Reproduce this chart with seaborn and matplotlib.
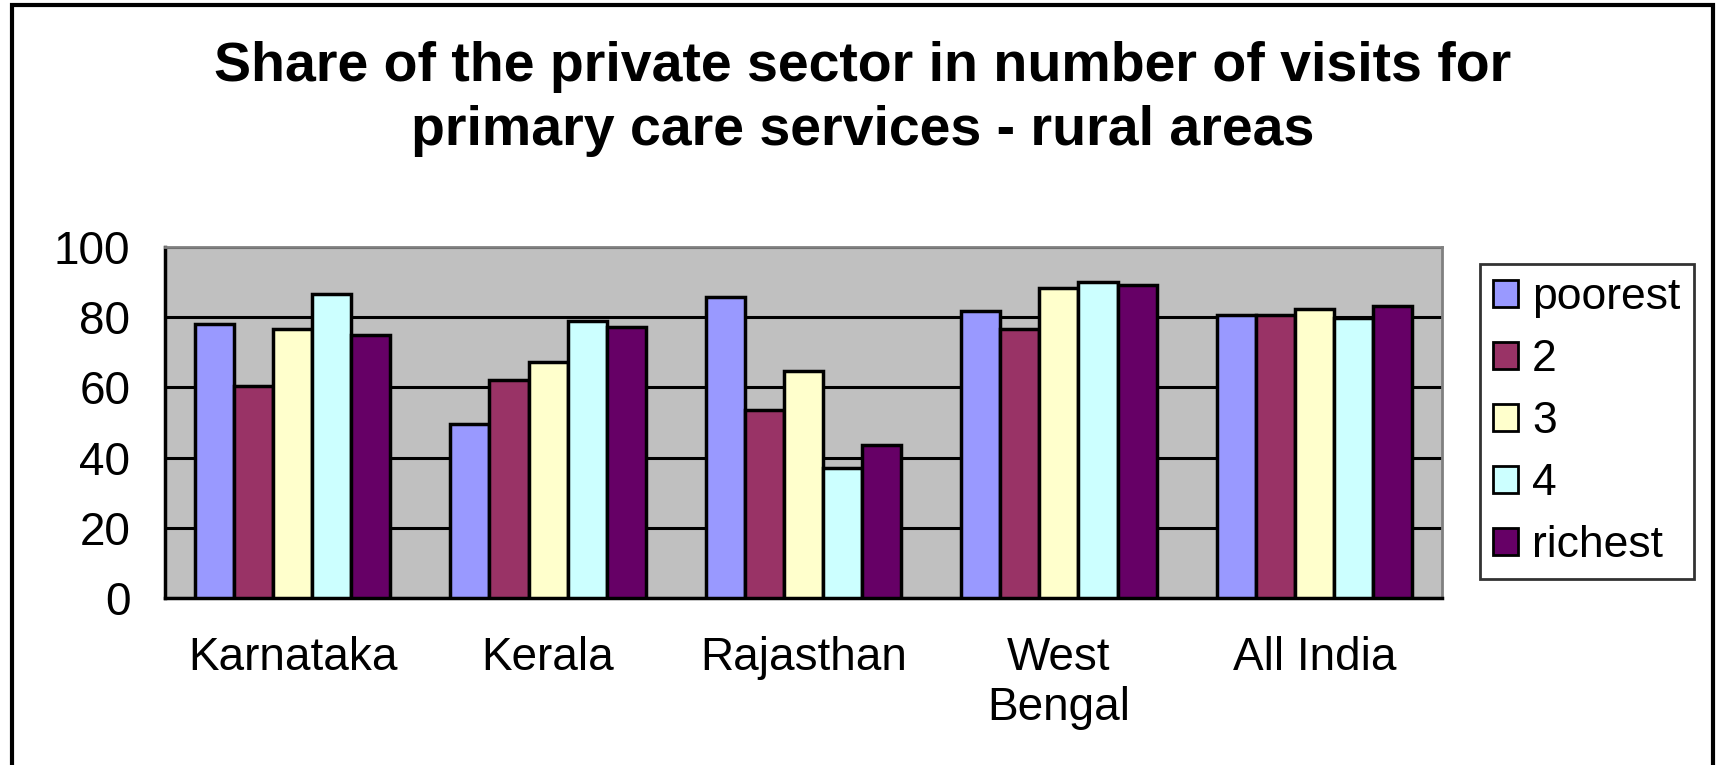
import matplotlib
matplotlib.use("Agg")
import matplotlib.pyplot as plt
import seaborn as sns
import pandas as pd
from matplotlib.patches import Rectangle

regions = ["Karnataka", "Kerala", "Rajasthan", "West\nBengal", "All India"]
quintiles = ["poorest", "2", "3", "4", "richest"]
poorest = [78.2, 49.7, 85.8, 81.7, 80.7]
q2 = [60.5, 62.1, 53.7, 76.6, 80.7]
q3 = [76.5, 67.2, 64.7, 88.3, 82.4]
q4 = [86.7, 78.9, 36.9, 89.9, 79.9]
richest = [74.8, 77.3, 43.7, 89.2, 83.1]
colors = ["#9999FF", "#993366", "#FFFFCC", "#CCFFFF", "#660066"]
title = "Share of the private sector in number of visits for\nprimary care services - rural areas"

series = [poorest, q2, q3, q4, richest]
df = pd.DataFrame(
    [(r, q, v) for q, vals in zip(quintiles, series) for r, v in zip(regions, vals)],
    columns=["region", "quintile", "share"],
)

sns.set_style("white")
plt.rcParams["font.family"] = ["Liberation Sans", "DejaVu Sans"]
plt.rcParams["text.color"] = "black"
plt.rcParams["xtick.labelcolor"] = "black"
plt.rcParams["ytick.labelcolor"] = "black"

W, H = 1716, 765
fig = plt.figure(figsize=(W / 100, H / 100), dpi=100)
ax = fig.add_axes([165 / W, 1 - 598 / H, (1442 - 165) / W, (598 - 247) / H])
ax.set_facecolor("#C0C0C0")

sns.barplot(
    data=df, x="region", y="share", hue="quintile", order=regions,
    hue_order=quintiles, palette=colors, saturation=1, width=0.765,
    edgecolor="black", linewidth=2.5, ax=ax, zorder=3,
)

ax.set_xlim(-0.5, len(regions) - 0.5)
ax.set_ylim(0, 100)
ax.set_yticks(range(0, 101, 20))
ax.set_xlabel("")
ax.set_ylabel("")
ax.yaxis.grid(True, color="black", linewidth=2.2, zorder=0)
ax.set_axisbelow(True)

# category labels without ticks; boundary ticks between the groups
ax.tick_params(axis="x", which="major", length=0, pad=27, labelsize=33)
ax.set_xticks([i - 0.5 for i in range(len(regions) + 1)], minor=True)
ax.tick_params(axis="x", which="minor", length=12, width=2, color="black", direction="out")
ax.tick_params(axis="y", length=12, width=2, color="black", direction="out", pad=13, labelsize=33)
for lbl in ax.get_xticklabels():
    lbl.set_linespacing(1.18)

for side in ["left", "bottom"]:
    ax.spines[side].set_color("black")
    ax.spines[side].set_linewidth(2.5)
for side in ["top", "right"]:
    ax.spines[side].set_color("#808080")
    ax.spines[side].set_linewidth(2)
    ax.spines[side].set_visible(True)

leg = ax.legend(
    loc="upper left", bbox_to_anchor=(1480 / W, 1 - 264 / H), bbox_transform=fig.transFigure,
    frameon=True, fancybox=False, edgecolor="black", fontsize=32, handlelength=0.55,
    handleheight=0.55, handletextpad=0.32, labelspacing=0.47, borderpad=0.3,
    borderaxespad=0, title=None,
)
leg.get_frame().set_linewidth(2)
for h in leg.legend_handles:
    h.set_edgecolor("black")
    h.set_linewidth(2)

fig.text(863 / W, 1 - 99 / H, title, ha="center", va="center", fontsize=40,
         fontweight="bold", linespacing=1.3, color="black")

# outer chart frame
fig.patches.append(Rectangle((12 / W, -0.05), (1713 - 12) / W, 1 - 5 / H + 0.05,
                             transform=fig.transFigure, fill=False, edgecolor="black",
                             linewidth=3, clip_on=False))

fig.savefig("out.png", dpi=100, facecolor="white")
